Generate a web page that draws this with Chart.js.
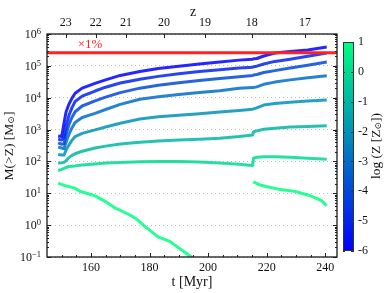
<!DOCTYPE html>
<html><head><meta charset="utf-8">
<script src="https://cdn.jsdelivr.net/npm/chart.js@4.4.1/dist/chart.umd.min.js"></script>
<style>html,body{margin:0;padding:0;background:#fff;}#wrap{width:390px;height:293px;}</style>
</head><body><div id="wrap"><canvas id="c" width="390" height="293"></canvas></div>
<script>
// time grid [Myr] shared by the Z >= 1e-6 ... 1e0 curves
const tGrid = [148.8,150.0,150.8,151.5,152.5,153.5,154.6,157.0,161.4,165.0,170.0,176.7,183.0,190.0,197.0,204.0,210.6,215.2,215.5,216.6,219.0,222.8,228.0,234.0,240.5];
// log10 M(>Z) [Msun] for each metallicity threshold log(Z/Zsun)
const log10M_Zm6 = [2.80,2.78,3.20,3.55,3.80,3.98,4.14,4.30,4.45,4.56,4.70,4.82,4.92,4.99,5.06,5.12,5.18,5.21,5.22,5.23,5.31,5.40,5.45,5.50,5.59];
const log10M_Zm5 = [2.70,2.67,2.75,3.10,3.45,3.68,3.88,4.05,4.21,4.33,4.46,4.58,4.67,4.75,4.82,4.88,4.93,4.96,4.97,4.99,5.06,5.14,5.21,5.30,5.40];
const log10M_Zm4 = [2.58,2.54,2.56,2.85,3.15,3.38,3.56,3.74,3.90,4.02,4.16,4.30,4.39,4.47,4.54,4.60,4.66,4.70,4.71,4.73,4.79,4.85,4.93,5.02,5.12];
const log10M_Zm3 = [2.45,2.42,2.40,2.60,2.85,3.05,3.22,3.38,3.51,3.63,3.79,3.95,4.03,4.10,4.16,4.22,4.30,4.32,4.32,4.34,4.42,4.49,4.56,4.63,4.69];
const log10M_Zm2 = [2.22,2.20,2.20,2.35,2.52,2.66,2.78,2.88,2.99,3.08,3.20,3.33,3.40,3.45,3.50,3.55,3.60,3.64,3.65,3.68,3.77,3.82,3.86,3.90,3.93];
const log10M_Zm1 = [1.95,1.96,1.97,2.02,2.12,2.19,2.24,2.32,2.42,2.48,2.55,2.60,2.64,2.67,2.70,2.73,2.78,2.83,2.93,2.96,3.01,3.04,3.08,3.10,3.12];
const log10M_Z0  = [1.71,1.75,1.78,1.81,1.84,1.85,1.86,1.89,1.92,1.95,1.97,1.99,2.00,2.00,1.98,1.95,1.91,1.87,2.10,2.13,2.15,2.15,2.13,2.10,2.07];
// Z >= 10 Zsun curve has its own times (drops below the axis, then reappears)
const tZ1      = [148.8,151.1,153.0,154.6,156.3,158.5,161.4,165.0,168.2,171.0,173.9,176.0,178.4,182.9,186.9,190.5,194.3,196.5,205.0,215.4,217.5,219.4,224.0,229.6,231.9,235.0,238.7,240.5];
const log10M_Z1 = [1.32,1.24,1.20,1.16,1.06,1.00,0.92,0.74,0.54,0.42,0.29,0.16,-0.04,-0.37,-0.51,-0.75,-1.00,-1.15,null,1.36,1.27,1.22,1.13,1.06,1.00,0.92,0.77,0.61];
const zThresholds = [-6,-5,-4,-3,-2,-1,0,1];
const onePercentMass = 2.6e5;
const xTicks = [160,180,200,220,240];
const yTickExponents = [-1,0,1,2,3,4,5,6];
const zLabels = [23,22,21,20,19,18,17];
const zTimes = [151.4,161.6,172.0,184.9,198.9,214.9,233.1];
const cbarTicks = [1,0,-1,-2,-3,-4,-5,-6];
const cbarMin = -6, cbarMax = 1;

function winter(z, a){ const f=(z-cbarMin)/(cbarMax-cbarMin); return `rgba(0,${Math.round(255*f)},${Math.round(255*(1-0.5*f))},${a})`; }
const FONT = '"Liberation Serif","DejaVu Serif",serif';

const seriesList = [log10M_Zm6,log10M_Zm5,log10M_Zm4,log10M_Zm3,log10M_Zm2,log10M_Zm1,log10M_Z0];
const datasets = [];
datasets.push({data:[{x:145,y:onePercentMass},{x:244,y:onePercentMass}], borderColor:'#ff2222', borderWidth:3, order:0});
seriesList.forEach((s,i)=>{
  datasets.push({data:tGrid.map((t,k)=>({x:t,y:Math.pow(10,s[k])})), borderColor:winter(zThresholds[i],0.85), borderWidth:3, order:1});
});
datasets.push({data:tZ1.map((t,k)=>({x:t,y:log10M_Z1[k]===null?null:Math.pow(10,log10M_Z1[k])})), borderColor:winter(zThresholds[7],0.85), borderWidth:3, order:1, spanGaps:false});

function drawRich(ctx, parts, cx, cy, rot){
  ctx.save(); ctx.translate(cx,cy); if(rot) ctx.rotate(rot);
  let w=0; parts.forEach(p=>{ctx.font=`${p.s}px ${FONT}`; p.w=ctx.measureText(p.t).width; w+=p.w;});
  let x=-w/2; ctx.textBaseline='middle'; ctx.textAlign='left';
  parts.forEach(p=>{ctx.font=`${p.s}px ${FONT}`; ctx.fillText(p.t,x,p.dy||0); x+=p.w;});
  ctx.restore();
}

const decor = {
  id:'decor',
  afterDraw(chart){
    const {ctx, chartArea:a, scales} = chart; const x=scales.x, y=scales.y, x2=scales.x2;
    ctx.save();
    ctx.strokeStyle='#222'; ctx.lineWidth=1;
    ctx.beginPath();
    for(let v=150; v<=244; v+=5){ const px=Math.round(x.getPixelForValue(v))+0.5; const L=xTicks.includes(v)?4:2; ctx.moveTo(px,a.bottom); ctx.lineTo(px,a.bottom-L); }
    zTimes.forEach(v=>{ const px=Math.round(x2.getPixelForValue(v))+0.5; ctx.moveTo(px,a.top); ctx.lineTo(px,a.top+4); });
    for(let e=-1;e<=6;e++){
      for(let k=1;k<=9;k++){
        const val=k*Math.pow(10,e); if(val>1e6) break;
        const py=Math.round(y.getPixelForValue(val))+0.5; const L=k===1?4:2;
        ctx.moveTo(a.left,py); ctx.lineTo(a.left+L,py); ctx.moveTo(a.right,py); ctx.lineTo(a.right-L,py);
      }
    }
    ctx.stroke();
    ctx.lineWidth=1.3; ctx.strokeStyle='#1a1a1a';
    ctx.strokeRect(a.left,a.top,a.right-a.left,a.bottom-a.top);
    // y tick labels: 10 with raised exponent, placed by the log scale
    ctx.fillStyle='#111'; ctx.textBaseline='alphabetic';
    yTickExponents.forEach(e=>{
      const py=y.getPixelForValue(Math.pow(10,e));
      const ex=String(e).replace('-','\u2212');
      ctx.font=`8.5px ${FONT}`; const we=ctx.measureText(ex).width;
      ctx.textAlign='right'; ctx.fillText(ex,41,py);
      ctx.font=`12px ${FONT}`; ctx.fillText('10',41-we,py+4);
    });
    // colorbar
    const cb={l:343,r:354,t:42,b:251};
    const g=ctx.createLinearGradient(0,cb.b,0,cb.t);
    g.addColorStop(0,winter(cbarMin,1)); g.addColorStop(1,winter(cbarMax,1));
    ctx.fillStyle=g; ctx.fillRect(cb.l,cb.t,cb.r-cb.l,cb.b-cb.t);
    ctx.lineWidth=1; ctx.strokeStyle='#333'; ctx.strokeRect(cb.l+0.5,cb.t+0.5,cb.r-cb.l-1,cb.b-cb.t-1);
    ctx.fillStyle='#111'; ctx.font=`12px ${FONT}`; ctx.textAlign='left'; ctx.textBaseline='middle';
    ctx.beginPath();
    cbarTicks.forEach(v=>{
      const py=cb.b-(v-cbarMin)/(cbarMax-cbarMin)*(cb.b-cb.t);
      ctx.moveTo(cb.r-3,Math.round(py)+0.5); ctx.lineTo(cb.r,Math.round(py)+0.5);
      ctx.moveTo(cb.l,Math.round(py)+0.5); ctx.lineTo(cb.l+2,Math.round(py)+0.5);
      ctx.fillText(String(v),358,py);
    });
    ctx.stroke();
    // texts
    ctx.fillStyle='#111';
    drawRich(ctx,[{t:'log (Z [Z',s:13.5},{t:'\u2299',s:9,dy:3},{t:'])',s:13.5}],376,146,-Math.PI/2);
    drawRich(ctx,[{t:'M(>Z) [M',s:13.5},{t:'\u2299',s:9,dy:3},{t:']',s:13.5}],9,146,-Math.PI/2);
    drawRich(ctx,[{t:'t [Myr]',s:14}],192,282,0);
    drawRich(ctx,[{t:'z',s:14}],193,12,0);
    ctx.fillStyle='#ff2222';
    drawRich(ctx,[{t:'\u00D71%',s:13}],90,45,0);
    ctx.restore();
  }
};

new Chart(document.getElementById('c'),{
  type:'line',
  data:{datasets},
  options:{
    responsive:false, animation:false, devicePixelRatio:1,
    layout:{padding:{left:0,right:53,top:0,bottom:0}},
    plugins:{legend:{display:false},tooltip:{enabled:false}},
    elements:{point:{radius:0},line:{tension:0,borderJoinStyle:'round',fill:false}},
    datasets:{line:{clip:0}},
    scales:{
      x:{type:'linear',position:'bottom',min:145,max:244,
         afterBuildTicks:s=>{s.ticks=xTicks.map(v=>({value:v}));},
         afterFit:s=>{s.height=36;},
         grid:{display:false,drawTicks:false}, border:{display:false},
         ticks:{autoSkip:false,maxRotation:0,padding:4,color:'#111',font:{family:FONT,size:12}}},
      x2:{type:'linear',position:'top',min:145,max:244,
         afterBuildTicks:s=>{s.ticks=zTimes.map(v=>({value:v}));},
         afterFit:s=>{s.height=34;},
         grid:{display:false,drawTicks:false}, border:{display:false},
         ticks:{autoSkip:false,maxRotation:0,padding:4,color:'#111',font:{family:FONT,size:12},
                callback:(v,i)=>String(zLabels[i])}},
      y:{type:'logarithmic',position:'left',min:0.1,max:1e6,
         afterBuildTicks:s=>{s.ticks=yTickExponents.map(e=>({value:Math.pow(10,e)}));},
         afterFit:s=>{s.width=47;},
         grid:{display:true,drawTicks:false,color:'#bdbdbd',lineWidth:1},
         border:{display:false,dash:[1,3]},
         ticks:{display:false}}
    }
  },
  plugins:[decor]
});
</script></body></html>
